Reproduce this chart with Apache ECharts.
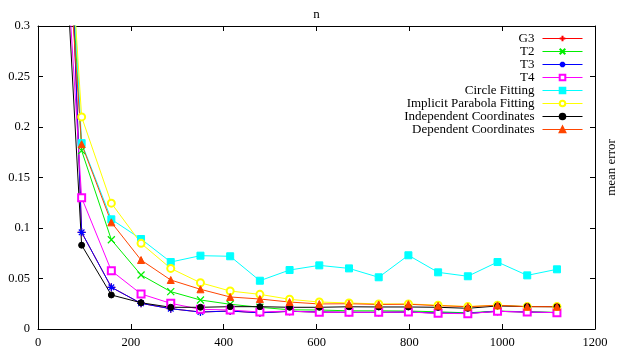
<!DOCTYPE html>
<html>
<head>
<meta charset="utf-8">
<script src="https://cdn.jsdelivr.net/npm/echarts@6/dist/echarts.min.js"></script>
<style>html,body{margin:0;padding:0;background:#fff}#c{width:634px;height:349px}</style>
</head>
<body>
<div id="c"></div>
<script>
var nValues = [30, 94, 158, 222, 286, 350, 414, 478, 542, 606, 670, 734, 798, 862, 926, 990, 1054, 1118];
var xTicks = [0, 200, 400, 600, 800, 1000, 1200];
var yTicks = [0, 0.05, 0.1, 0.15, 0.2, 0.25, 0.3];
var seriesNames = ['G3', 'T2', 'T3', 'T4', 'Circle Fitting', 'Implicit Parabola Fitting', 'Independent Coordinates', 'Dependent Coordinates'];
var g3 = [0.9, 0.0957, 0.0413, 0.0254, 0.0201, 0.0168, 0.0178, 0.016, 0.0175, 0.0168, 0.0165, 0.0165, 0.0168, 0.0158, 0.0155, 0.0175, 0.0168, 0.0162];
var t2 = [0.7, 0.1766, 0.0884, 0.0535, 0.037, 0.0287, 0.0245, 0.0215, 0.019, 0.0188, 0.018, 0.018, 0.0178, 0.017, 0.016, 0.0178, 0.017, 0.0165];
var t3 = [0.9, 0.0957, 0.0413, 0.0254, 0.0201, 0.0168, 0.0178, 0.016, 0.0175, 0.0168, 0.0165, 0.0165, 0.0168, 0.0158, 0.0155, 0.0175, 0.0168, 0.0162];
var t4 = [0.6, 0.13, 0.0577, 0.0347, 0.0254, 0.0195, 0.0188, 0.0168, 0.0178, 0.0165, 0.0165, 0.0165, 0.0168, 0.0155, 0.0152, 0.0175, 0.0168, 0.0162];
var circleFit = [0.75, 0.184, 0.1086, 0.0891, 0.0663, 0.0726, 0.072, 0.0478, 0.0584, 0.063, 0.060, 0.0512, 0.073, 0.0561, 0.0522, 0.0663, 0.0531, 0.0591];
var parabolaFit = [0.67, 0.21, 0.1246, 0.0848, 0.060, 0.0458, 0.0376, 0.0343, 0.0294, 0.0267, 0.0258, 0.0248, 0.0248, 0.0235, 0.0222, 0.0236, 0.0222, 0.0222];
var indepCoords = [0.62, 0.083, 0.0337, 0.026, 0.0215, 0.0215, 0.0221, 0.0221, 0.0215, 0.0215, 0.022, 0.0218, 0.0218, 0.0215, 0.0205, 0.0228, 0.0222, 0.022];
var depCoords = [0.6, 0.183, 0.1056, 0.0683, 0.0485, 0.0393, 0.0317, 0.0297, 0.0267, 0.0248, 0.0250, 0.0243, 0.0245, 0.0231, 0.0221, 0.0234, 0.0221, 0.0221];

var allData = [g3, t2, t3, t4, circleFit, parabolaFit, indepCoords, depCoords];
var colors = ['#ff0000', '#00ee00', '#0000ff', '#ff00ff', '#00ffff', '#ffff00', '#000000', '#ff4500'];
var symbols = [
  'path://M5,0L5,10M0,5L10,5',
  'path://M0,0L10,10M10,0L0,10',
  'path://M5,0L5,10M0,5L10,5M1.5,1.5L8.5,8.5M8.5,1.5L1.5,8.5',
  'emptyRect', 'rect', 'emptyCircle', 'circle', 'triangle'
];
var symbolSizes = [8, 7, 8, 7, 7, 7, 6, 7];
var strokeOnly = [true, true, true, false, false, false, false, false];

var FONT = '"Liberation Serif", "DejaVu Serif", serif';

function pairs(arr) {
  return nValues.map(function (n, i) { return [n, arr[i]]; });
}

var series = seriesNames.map(function (name, i) {
  return {
    name: name,
    type: 'line',
    xAxisIndex: 0,
    yAxisIndex: 0,
    data: pairs(allData[i]),
    symbol: symbols[i],
    symbolSize: symbolSizes[i],
    showAllSymbol: true,
    clip: true,
    animation: false,
    lineStyle: { color: colors[i], width: 1 },
    itemStyle: strokeOnly[i]
      ? { color: colors[i], borderColor: colors[i], borderWidth: 1.2 }
      : { color: colors[i], borderColor: colors[i], borderWidth: 1 },
    emphasis: { disabled: true }
  };
});

var axisCommon = {
  type: 'value',
  axisLine: { show: true, onZero: false, lineStyle: { color: '#000', width: 1 } },
  axisTick: { show: true, inside: true, length: 5, lineStyle: { color: '#000' } },
  splitLine: { show: false },
  minorTick: { show: false }
};

var chart = echarts.init(document.getElementById('c'), null, { renderer: 'canvas' });
chart.setOption({
  animation: false,
  backgroundColor: '#fff',
  grid: { left: 38, right: 39, top: 26, bottom: 20, containLabel: false },
  xAxis: [
    Object.assign({}, axisCommon, {
      position: 'bottom', min: xTicks[0], max: xTicks[xTicks.length - 1], interval: xTicks[1] - xTicks[0],
      axisLabel: { show: true, color: '#000', fontFamily: FONT, fontSize: 12.5, margin: 7,
        formatter: function (v) { return String(v); } }
    }),
    Object.assign({}, axisCommon, {
      position: 'top', min: xTicks[0], max: xTicks[xTicks.length - 1], interval: xTicks[1] - xTicks[0],
      axisLabel: { show: false },
      name: 'n', nameLocation: 'middle', nameGap: 5,
      nameTextStyle: { color: '#000', fontFamily: FONT, fontSize: 13 }
    })
  ],
  yAxis: [
    Object.assign({}, axisCommon, {
      position: 'left', min: yTicks[0], max: yTicks[yTicks.length - 1], interval: yTicks[1] - yTicks[0],
      axisLabel: { show: true, color: '#000', fontFamily: FONT, fontSize: 12.5, margin: 8,
        formatter: function (v) { return String(Math.round(v * 1000) / 1000); } }
    }),
    Object.assign({}, axisCommon, {
      position: 'right', min: yTicks[0], max: yTicks[yTicks.length - 1], interval: yTicks[1] - yTicks[0],
      axisLabel: { show: false },
      name: 'mean error', nameLocation: 'middle', nameGap: 10, nameRotate: 90,
      nameTextStyle: { color: '#000', fontFamily: FONT, fontSize: 13, padding: [0, 0, 0, 20] }
    })
  ],
  legend: {
    show: true,
    orient: 'vertical',
    align: 'right',
    right: 51,
    top: 32,
    itemWidth: 40,
    itemHeight: 7,
    itemGap: 0,
    padding: 0,
    selectedMode: false,
    lineStyle: { width: 1 },
    textStyle: { color: '#000', fontFamily: FONT, fontSize: 13, lineHeight: 13, padding: [0, 3, 0, 0] },
    data: seriesNames
  },
  series: series
});
</script>
</body>
</html>
